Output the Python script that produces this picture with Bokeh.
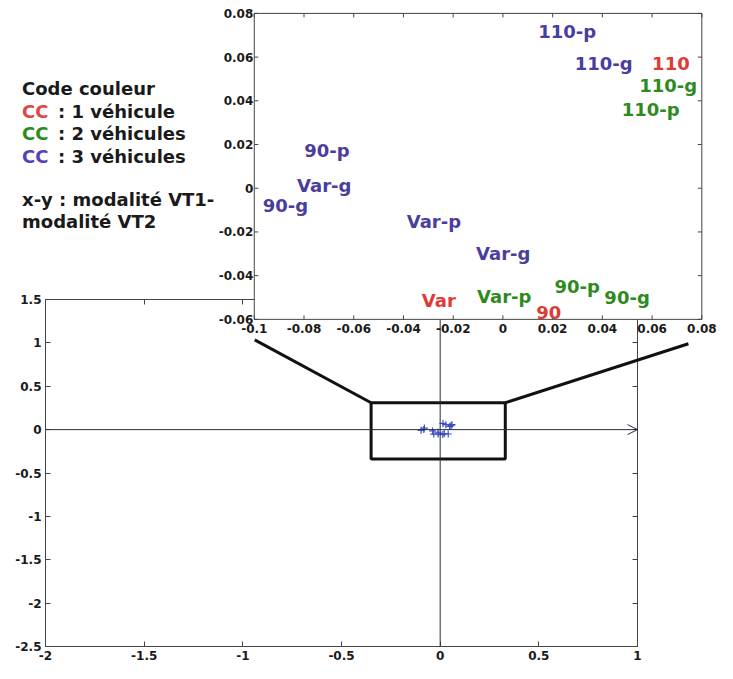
from bokeh.plotting import figure
from bokeh.models import Range1d, LinearAxis, FixedTicker, Span, Arrow, OpenHead, ColumnDataSource
from bokeh.core.properties import value
from bokeh.embed import file_html
from bokeh.resources import INLINE

# ---------------- data ----------------
labels = ["110-p", "110-g", "110", "110-g", "110-p", "90-p", "Var-g", "90-g",
          "Var-p", "Var-g", "90-p", "90-g", "Var-p", "Var", "90"]
n_vehicles = [3, 3, 1, 2, 2, 3, 3, 3, 3, 3, 2, 2, 2, 1, 1]
coord1 = [0.0142, 0.0289, 0.0600, 0.0548, 0.0478, -0.0799, -0.0828, -0.0966,
          -0.0387, -0.0108, 0.0207, 0.0408, -0.0104, -0.0326, 0.0134]
coord2 = [0.0719, 0.0572, 0.0572, 0.0469, 0.0362, 0.0174, 0.0013, -0.0077,
          -0.0153, -0.0300, -0.0448, -0.0502, -0.0497, -0.0515, -0.0569]

main_x_ticks = [-2, -1.5, -1, -0.5, 0, 0.5, 1]
main_x_labels = ["-2", "-1.5", "-1", "-0.5", "0", "0.5", "1"]
main_y_ticks = [-2.5, -2, -1.5, -1, -0.5, 0, 0.5, 1, 1.5]
main_y_labels = ["-2.5", "-2", "-1.5", "-1", "-0.5", "0", "0.5", "1", "1.5"]

inset_x_ticks = [-0.1, -0.08, -0.06, -0.04, -0.02, 0, 0.02, 0.04, 0.06, 0.08]
inset_x_labels = ["-0.1", "-0.08", "-0.06", "-0.04", "-0.02", "0", "0.02", "0.04", "0.06", "0.08"]
inset_y_ticks = [-0.06, -0.04, -0.02, 0, 0.02, 0.04, 0.06, 0.08]
inset_y_labels = ["-0.06", "-0.04", "-0.02", "0", "0.02", "0.04", "0.06", "0.08"]

zoom_box_x = [-0.35, 0.33]
zoom_box_y = [-0.34, 0.31]

legend_title = "Code couleur"
legend_code = "CC"
legend_items = [": 1 véhicule", ": 2 véhicules", ": 3 véhicules"]
note_lines = ["x-y : modalité VT1-", "modalité VT2"]

# ---------------- styles / layout ----------------
group_colors = ["#de3b35", "#2e8a1e", "#4a3d9e"]
legend_colors = ["#e04545", "#2e8a1e", "#5243b8"]
FONT = value("DejaVu Sans")
INK = "#1a1a1a"
AX = "#444444"

# inset position expressed in main-plot data units
inset_x_target = (-0.942, 1.326)
inset_y_target = (1.271, 4.798)

p = figure(width=717, height=663, x_range=Range1d(-2, 1), y_range=Range1d(-2.5, 1.5),
           output_backend="svg", toolbar_location=None,
           min_border_left=45, min_border_right=80, min_border_top=299, min_border_bottom=17)
p.grid.visible = False
p.outline_line_color = None
p.background_fill_color = "white"
p.border_fill_color = "white"


def style_axis(ax, ticks, labs, show_labels=True):
    ax.ticker = FixedTicker(ticks=ticks)
    ax.major_label_overrides = {t: l for t, l in zip(ticks, labs)}
    ax.major_tick_in = 5
    ax.major_tick_out = 0
    ax.minor_tick_line_color = None
    ax.axis_line_color = AX
    ax.major_tick_line_color = AX
    ax.major_label_text_font = "DejaVu Sans"
    ax.major_label_text_font_style = "bold"
    ax.major_label_text_font_size = "12px"
    ax.major_label_text_color = INK
    ax.major_label_standoff = 4
    if not show_labels:
        ax.major_label_text_color = None


style_axis(p.xaxis[0], main_x_ticks, main_x_labels)
style_axis(p.yaxis[0], main_y_ticks, main_y_labels)
top_axis = LinearAxis()
right_axis = LinearAxis()
style_axis(top_axis, main_x_ticks, main_x_labels, show_labels=False)
style_axis(right_axis, main_y_ticks, main_y_labels, show_labels=False)
p.add_layout(top_axis, "above")
p.add_layout(right_axis, "right")

# zero axes of the main plot
p.add_layout(Span(location=0, dimension="height", line_color="#2a2a3a", line_width=1))
p.add_layout(Arrow(end=OpenHead(size=10, line_color="#2a2a3a", line_width=1),
                   x_start=main_x_ticks[0], y_start=0, x_end=main_x_ticks[-1], y_end=0,
                   line_color="#2a2a3a", line_width=1))

# points of the main plot
p.scatter(coord1, coord2, marker="cross", size=7, line_color="#3d4fc8", line_width=1.2)

# zoom box and connectors
p.quad(left=zoom_box_x[0], right=zoom_box_x[1], bottom=zoom_box_y[0], top=zoom_box_y[1],
       fill_color=None, line_color="#111111", line_width=3)
p.segment(x0=[zoom_box_x[0], zoom_box_x[1]], y0=[zoom_box_y[1], zoom_box_y[1]],
          x1=[inset_x_target[0] + 0.002, inset_x_target[1] - 0.068],
          y1=[inset_y_target[0] - 0.236, inset_y_target[0] - 0.281],
          line_color="#111111", line_width=3, level="overlay")

# ---------------- inset ----------------
ix0, ix1 = inset_x_ticks[0], inset_x_ticks[-1]
iy0, iy1 = inset_y_ticks[0], inset_y_ticks[-1]
sub = p.subplot(x_source=Range1d(ix0, ix1), y_source=Range1d(iy0, iy1),
                x_target=Range1d(*inset_x_target), y_target=Range1d(*inset_y_target))

sub.quad(left=ix0, right=ix1, bottom=iy0, top=iy1, fill_color="white",
         line_color=AX, line_width=1, level="overlay")

tx = 0.009 * (ix1 - ix0)
ty = 0.013 * (iy1 - iy0)
nx, ny = len(inset_x_ticks), len(inset_y_ticks)
sub.segment(x0=inset_x_ticks, y0=[iy0] * nx, x1=inset_x_ticks, y1=[iy0 + ty] * nx,
            line_color=AX, line_width=1, level="overlay")
sub.segment(x0=inset_x_ticks, y0=[iy1] * nx, x1=inset_x_ticks, y1=[iy1 - ty] * nx,
            line_color=AX, line_width=1, level="overlay")
sub.segment(x0=[ix0] * ny, y0=inset_y_ticks, x1=[ix0 + tx] * ny, y1=inset_y_ticks,
            line_color=AX, line_width=1, level="overlay")
sub.segment(x0=[ix1] * ny, y0=inset_y_ticks, x1=[ix1 - tx] * ny, y1=inset_y_ticks,
            line_color=AX, line_width=1, level="overlay")

sub.text(x=inset_x_ticks, y=[iy0] * nx, text=inset_x_labels, text_align="center",
         text_baseline="top", y_offset=5, text_font=FONT, text_font_style="bold",
         text_font_size="12px", text_color=INK, level="overlay")
sub.text(x=[ix0] * ny, y=inset_y_ticks, text=inset_y_labels, text_align="right",
         text_baseline="middle", x_offset=-1, text_font=FONT, text_font_style="bold",
         text_font_size="12px", text_color=INK, level="overlay")

src = ColumnDataSource(dict(x=coord1, y=coord2, text=labels,
                            color=[group_colors[n - 1] for n in n_vehicles]))
sub.text(x="x", y="y", text="text", text_color="color", source=src, text_align="left",
         text_baseline="middle", text_font=FONT, text_font_style="bold",
         text_font_size="18px", level="overlay")

# ---------------- legend text (left of inset) ----------------
lx = -2.119
title_y = 3.933
row_y = [3.672, 3.409, 3.146]
note_y = [2.657, 2.398]
p.text(x=[lx], y=[title_y], text=[legend_title], text_align="left", text_baseline="middle",
       text_font=FONT, text_font_style="bold", text_font_size="18px", text_color=INK,
       level="overlay")
p.text(x=[lx] * 3, y=row_y, text=[legend_code] * 3, text_color=legend_colors,
       text_align="left", text_baseline="middle", text_font=FONT, text_font_style="bold",
       text_font_size="18px", level="overlay")
p.text(x=[lx] * 3, y=row_y, text=legend_items, text_align="left", text_baseline="middle",
       x_offset=36, text_font=FONT, text_font_style="bold", text_font_size="18px",
       text_color=INK, level="overlay")
p.text(x=[lx] * 2, y=note_y, text=note_lines, text_align="left", text_baseline="middle",
       text_font=FONT, text_font_style="bold", text_font_size="18px", text_color=INK,
       level="overlay")

open("out.html", "w").write(file_html(p, INLINE))
